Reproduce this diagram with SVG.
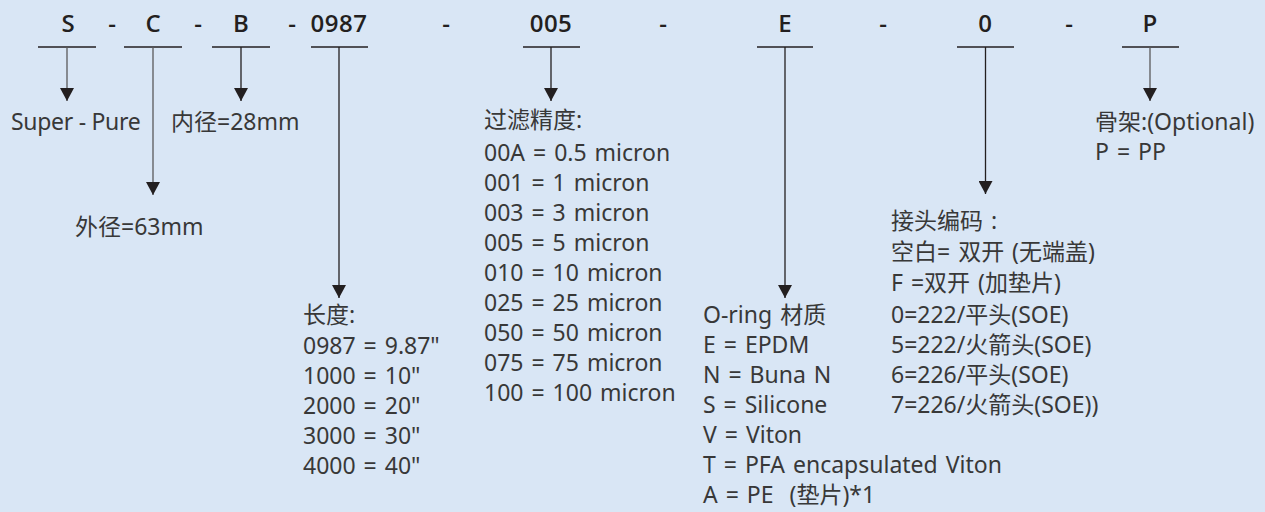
<svg xmlns="http://www.w3.org/2000/svg" width="1265" height="512" viewBox="0 0 1265 512">
<style>
.hd{font-family:"Open Sans","Liberation Sans",sans-serif;font-size:24px;font-weight:600;fill:#231f20;text-anchor:middle}
.tx{font-family:"Noto Sans","Noto Sans CJK SC",sans-serif;font-size:23px;fill:#383838;word-spacing:2px}
.ul{stroke:#231f20;stroke-width:1.3}
.cn{stroke:#231f20;stroke-width:1.3;fill:none;marker-end:url(#ah)}
.cg{stroke:#5a5a5a}
</style>
<defs>
<marker id="ah" viewBox="0 0 13 14" refX="13" refY="7" markerWidth="13" markerHeight="14" markerUnits="userSpaceOnUse" orient="auto">
<path d="M0,0 L13,7 L0,14 Z" fill="#231f20"/>
</marker>
</defs>
<rect width="1265" height="512" fill="#d9e6f5"/>

<g id="code">
<g id="seg-S"><text class="hd" x="68" y="32">S</text><line class="ul" x1="38" y1="47" x2="96" y2="47"/></g>
<text class="hd" x="112" y="32">-</text>
<g id="seg-C"><text class="hd" x="153" y="32">C</text><line class="ul" x1="124" y1="47" x2="182" y2="47"/></g>
<text class="hd" x="198" y="32">-</text>
<g id="seg-B"><text class="hd" x="241" y="32">B</text><line class="ul" x1="212" y1="47" x2="270" y2="47"/></g>
<text class="hd" x="292" y="32">-</text>
<g id="seg-0987"><text class="hd" x="339" y="32" letter-spacing="0.5">0987</text><line class="ul" x1="311" y1="47" x2="368" y2="47"/></g>
<text class="hd" x="446" y="32">-</text>
<g id="seg-005"><text class="hd" x="551" y="32" letter-spacing="0.5">005</text><line class="ul" x1="523" y1="47" x2="580" y2="47"/></g>
<text class="hd" x="663" y="32">-</text>
<g id="seg-E"><text class="hd" x="785" y="32">E</text><line class="ul" x1="757" y1="47" x2="813" y2="47"/></g>
<text class="hd" x="883" y="32">-</text>
<g id="seg-0"><text class="hd" x="985" y="32">0</text><line class="ul" x1="957" y1="47" x2="1014" y2="47"/></g>
<text class="hd" x="1069" y="32">-</text>
<g id="seg-P"><text class="hd" x="1150" y="32">P</text><line class="ul" x1="1122" y1="47" x2="1179" y2="47"/></g>
</g>

<g id="connectors">
<line class="cn cg" x1="67" y1="47" x2="67" y2="101"/>
<line class="cn cg" x1="153" y1="47" x2="153" y2="195"/>
<line class="cn" x1="241" y1="47" x2="241" y2="101"/>
<line class="cn" x1="339" y1="47" x2="339" y2="298"/>
<line class="cn" x1="551" y1="47" x2="551" y2="101"/>
<line class="cn" x1="785" y1="47" x2="785" y2="298"/>
<line class="cn" x1="985.5" y1="47" x2="985.5" y2="194"/>
<line class="cn cg" x1="1150" y1="47" x2="1150" y2="101"/>
</g>

<g id="desc-S"><text class="tx" x="11" y="130" style="word-spacing:0;letter-spacing:-0.3px">Super - Pure</text></g>
<g id="desc-B"><text class="tx" x="171" y="130">内径=28mm</text></g>
<g id="desc-C"><text class="tx" x="75" y="235">外径=63mm</text></g>

<g id="desc-length">
<text class="tx" x="303" y="323">长度:</text>
<text class="tx" x="303" y="354">0987 = 9.87"</text>
<text class="tx" x="303" y="384">1000 = 10"</text>
<text class="tx" x="303" y="414">2000 = 20"</text>
<text class="tx" x="303" y="444">3000 = 30"</text>
<text class="tx" x="303" y="474">4000 = 40"</text>
</g>

<g id="desc-micron">
<text class="tx" x="484" y="128">过滤精度:</text>
<text class="tx" x="484" y="161">00A = 0.5 micron</text>
<text class="tx" x="484" y="191">001 = 1 micron</text>
<text class="tx" x="484" y="221">003 = 3 micron</text>
<text class="tx" x="484" y="251">005 = 5 micron</text>
<text class="tx" x="484" y="281">010 = 10 micron</text>
<text class="tx" x="484" y="311">025 = 25 micron</text>
<text class="tx" x="484" y="341">050 = 50 micron</text>
<text class="tx" x="484" y="371">075 = 75 micron</text>
<text class="tx" x="484" y="401">100 = 100 micron</text>
</g>

<g id="desc-oring">
<text class="tx" x="703" y="323">O-ring 材质</text>
<text class="tx" x="703" y="353">E = EPDM</text>
<text class="tx" x="703" y="383">N = Buna N</text>
<text class="tx" x="703" y="413">S = Silicone</text>
<text class="tx" x="703" y="443">V = Viton</text>
<text class="tx" x="703" y="473">T = PFA encapsulated Viton</text>
<text class="tx" x="703" y="503" xml:space="preserve">A = PE  (垫片)*1</text>
</g>

<g id="desc-end">
<text class="tx" x="891" y="229">接头编码 :</text>
<text class="tx" x="891" y="260">空白= 双开 (无端盖)</text>
<text class="tx" x="891" y="291">F =双开 (加垫片)</text>
<text class="tx" x="891" y="323">0=222/平头(SOE)</text>
<text class="tx" x="891" y="353">5=222/火箭头(SOE)</text>
<text class="tx" x="891" y="383">6=226/平头(SOE)</text>
<text class="tx" x="891" y="413">7=226/火箭头(SOE))</text>
</g>

<g id="desc-P">
<text class="tx" x="1095" y="130">骨架:(Optional)</text>
<text class="tx" x="1095" y="160">P = PP</text>
</g>
</svg>
